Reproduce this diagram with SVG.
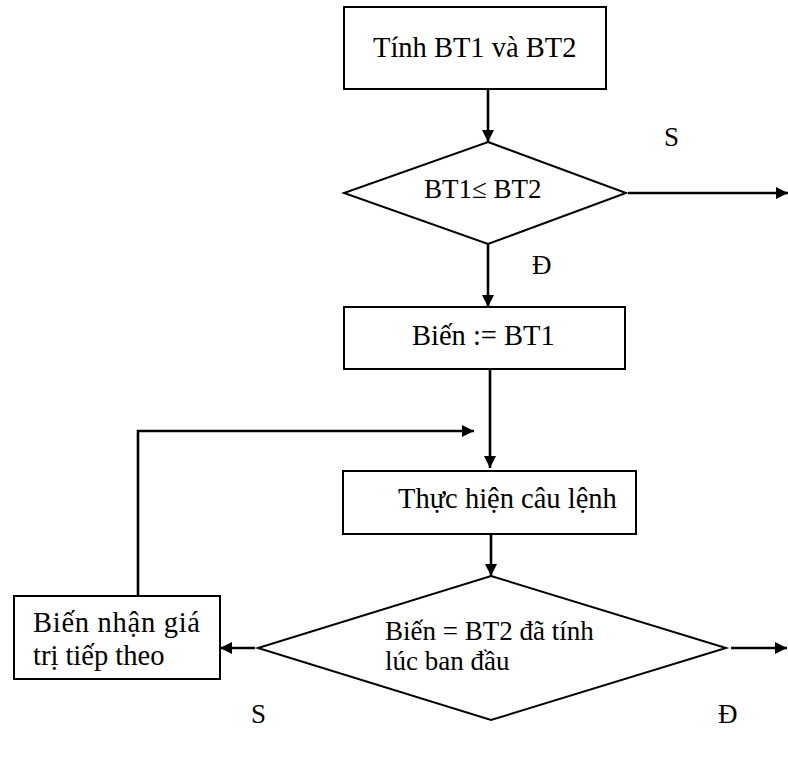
<svg xmlns="http://www.w3.org/2000/svg" width="788" height="761" viewBox="0 0 788 761">
<style>
.box{fill:#fff;stroke:#000;stroke-width:2}
.c{fill:none;stroke:#000;stroke-width:2.6}
text{font-family:"Liberation Serif","Times New Roman",serif;font-size:28.5px;fill:#000}
.d{font-size:27px}
</style>
<defs>
<marker id="ah" viewBox="0 0 12 12" refX="12" refY="6" markerWidth="12" markerHeight="12" markerUnits="userSpaceOnUse" orient="auto">
<path d="M0,0 L12,6 L0,12 Z" fill="#000"/>
</marker>
</defs>
<rect width="788" height="761" fill="#fff"/>
<g id="connectors">
<line class="c" x1="488" y1="89" x2="488" y2="142" marker-end="url(#ah)"/>
<line class="c" x1="628" y1="193" x2="788" y2="193" marker-end="url(#ah)"/>
<line class="c" x1="488" y1="244" x2="488" y2="307" marker-end="url(#ah)"/>
<line class="c" x1="490" y1="369" x2="490" y2="468" marker-end="url(#ah)"/>
<polyline class="c" points="138,596 138,431 474,431" marker-end="url(#ah)"/>
<line class="c" x1="491" y1="534" x2="491" y2="576" marker-end="url(#ah)"/>
<line class="c" x1="255" y1="648" x2="220" y2="648" marker-end="url(#ah)"/>
<line class="c" x1="731" y1="648" x2="787" y2="648" marker-end="url(#ah)"/>
<text class="d" x="664" y="146">S</text>
<text class="d" x="532" y="274">Đ</text>
<text class="d" x="251" y="723">S</text>
<text class="d" x="718" y="723">Đ</text>
</g>
<g id="start">
<rect class="box" x="344" y="7" width="262" height="82"/>
<text x="373" y="57">Tính BT1 và BT2</text>
</g>
<g id="cond1">
<polygon class="box" points="488,142 626,193 488,244 344,193"/>
<text class="d" x="424" y="198">BT1≤ BT2</text>
</g>
<g id="assign">
<rect class="box" x="344" y="307" width="281" height="62"/>
<text x="412" y="345">Biến := BT1</text>
</g>
<g id="exec">
<rect class="box" x="343" y="471" width="293" height="63"/>
<text x="398" y="508">Thực hiện câu lệnh</text>
</g>
<g id="cond2">
<polygon class="box" points="491,576 726,648 491,720 258,648"/>
<text class="d" x="385" y="640">Biến = BT2 đã tính</text>
<text class="d" x="385" y="670">lúc ban đầu</text>
</g>
<g id="next">
<rect class="box" x="14" y="596" width="206" height="83"/>
<text x="33" y="632" textLength="167" lengthAdjust="spacing">Biến nhận giá</text>
<text x="33" y="665">trị tiếp theo</text>
</g>
</svg>
